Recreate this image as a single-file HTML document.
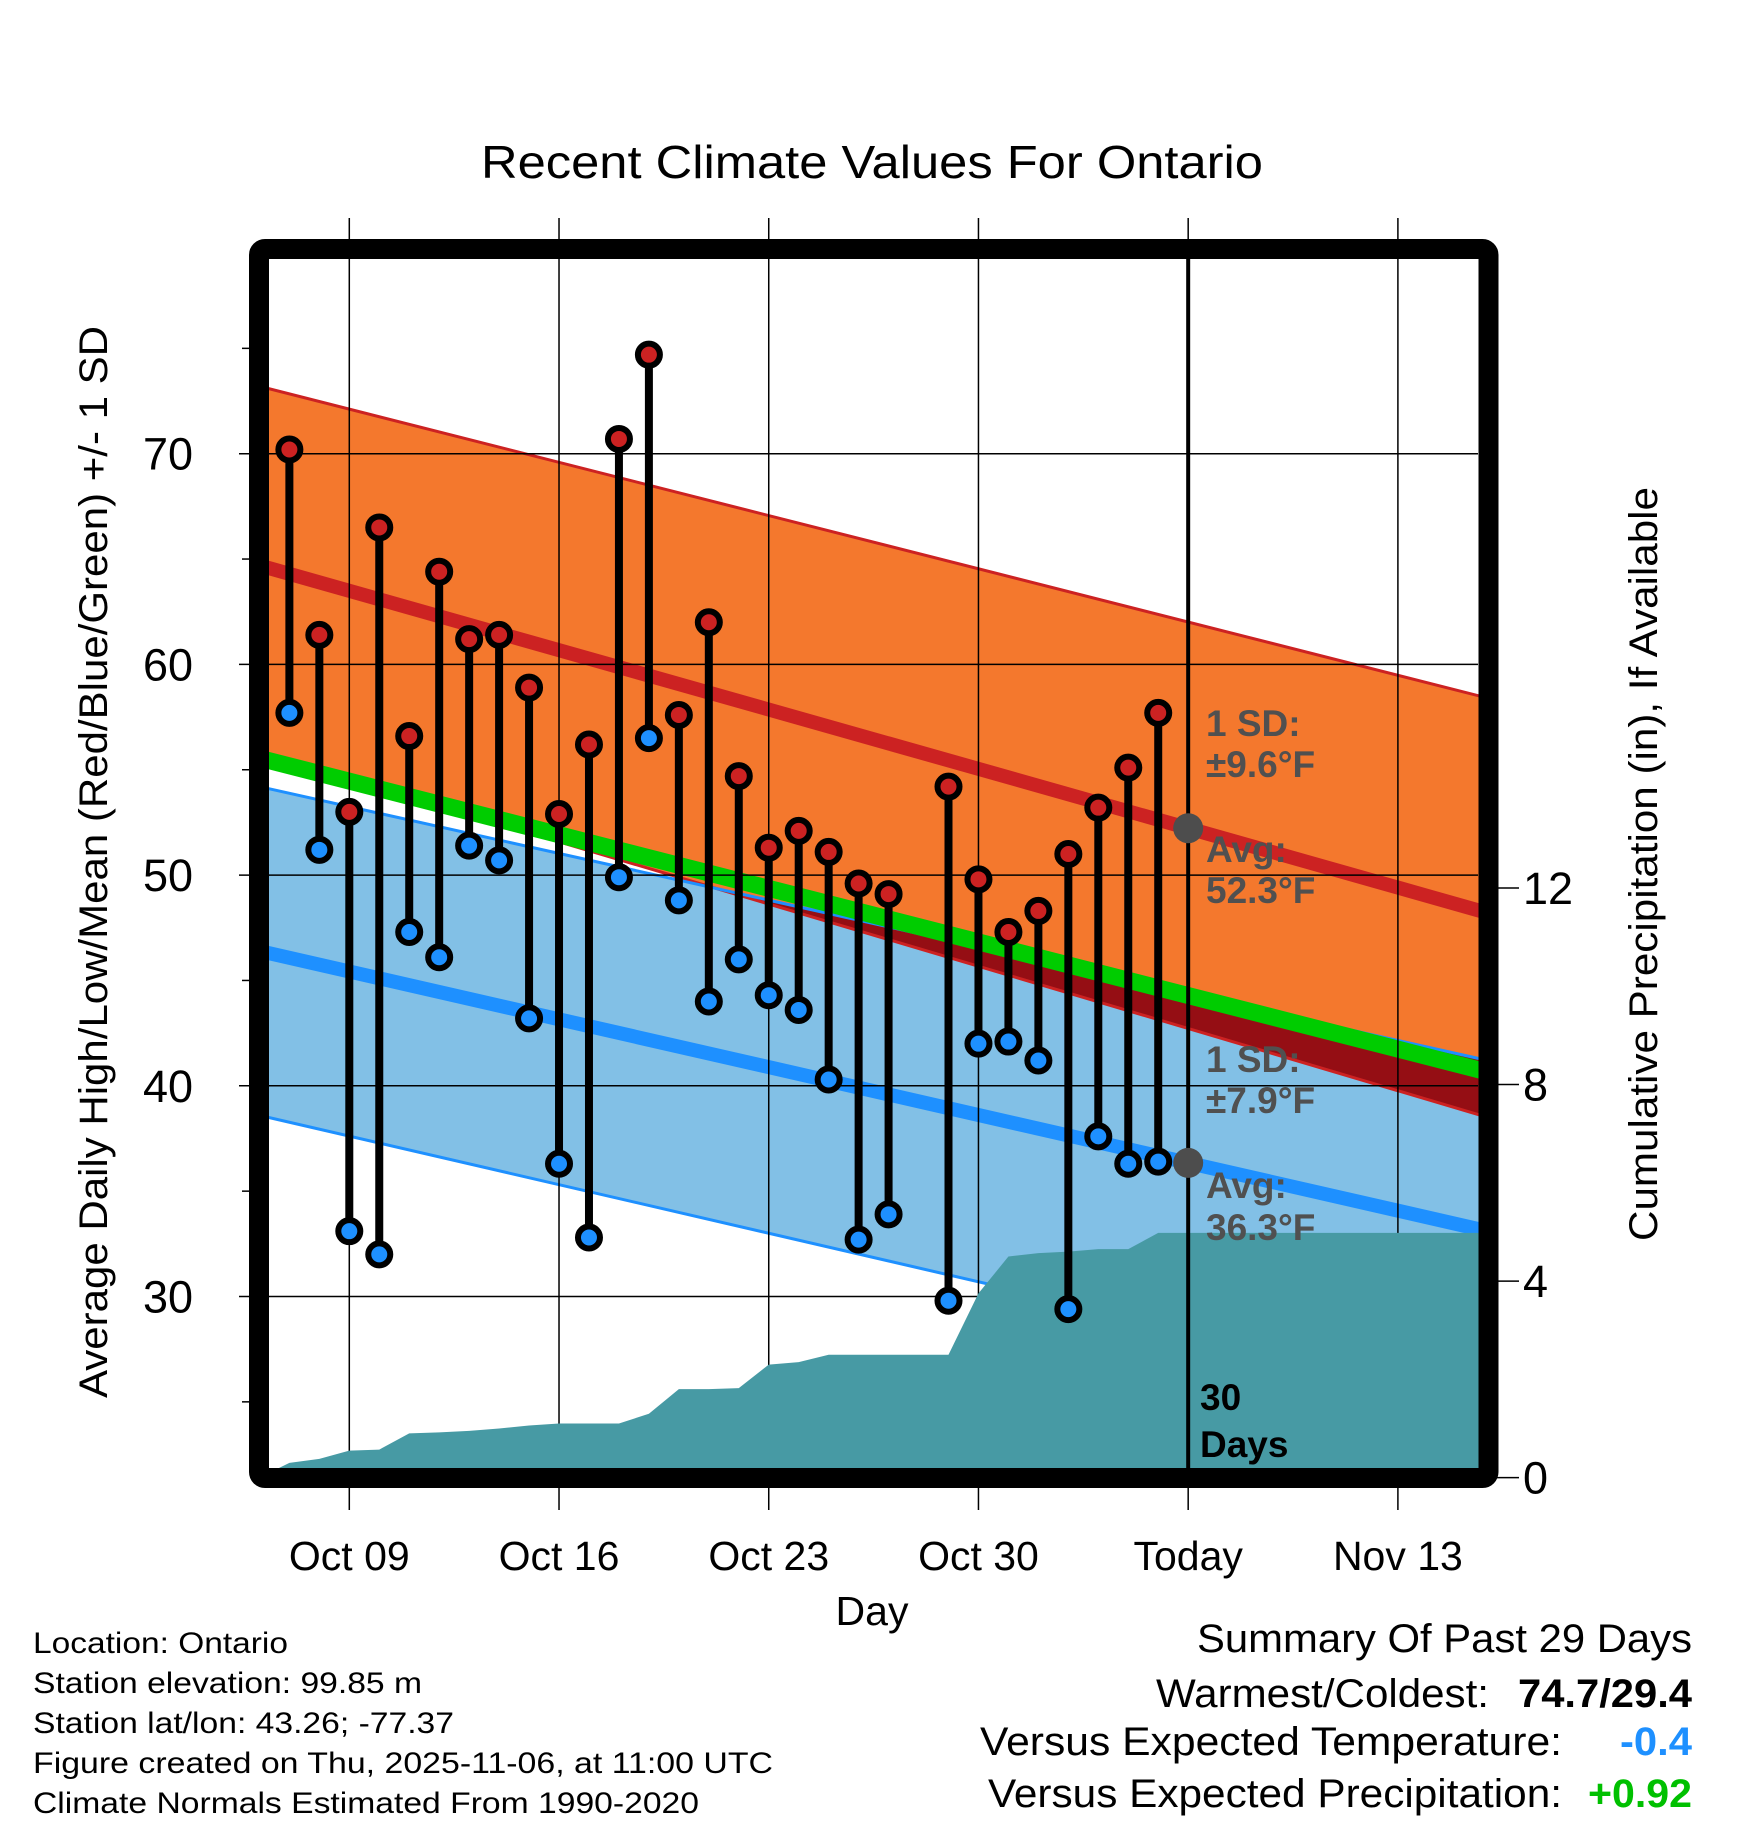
<!DOCTYPE html>
<html><head><meta charset="utf-8"><style>
html,body{margin:0;padding:0;background:#fff}
svg{display:block;font-family:"Liberation Sans",Arial,sans-serif}
</style></head><body>
<svg id="chart" width="1748" height="1828" viewBox="0 0 1748 1828" xmlns="http://www.w3.org/2000/svg">
<defs><clipPath id="plotclip"><rect x="268" y="258" width="1211" height="1211"/></clipPath></defs>
<g id="bands" clip-path="url(#plotclip)"></g>
<g id="grid"></g>
<g id="precip" clip-path="url(#plotclip)"></g>
<g id="marks"></g>
<rect x="259" y="249" width="1229.5" height="1229" fill="none" stroke="#000" stroke-width="20" rx="6"/>
<g id="labels"></g>
</svg>
<script>
// ---- data ----
const dayLabels = ["Oct 09","Oct 16","Oct 23","Oct 30","Today","Nov 13"];
const dayLabelOffsets = [0,7,14,21,28,35];
const obsDays = [-2,-1,0,1,2,3,4,5,6,7,8,9,10,11,12,13,14,15,16,17,18,20,21,22,23,24,25,26,27];
const highs = [70.2,61.4,53.0,66.5,56.6,64.4,61.2,61.4,58.9,52.9,56.2,70.7,74.7,57.6,62.0,54.7,51.3,52.1,51.1,49.6,49.1,54.2,49.8,47.3,48.3,51.0,53.2,55.1,57.7];
const lows  = [57.7,51.2,33.1,32.0,47.3,46.1,51.4,50.7,43.2,36.3,32.8,49.9,56.5,48.8,44.0,46.0,44.3,43.6,40.3,32.7,33.9,29.8,42.0,42.1,41.2,29.4,37.6,36.3,36.4];
const normDays = [-3,38];
const normHigh = [64.7,48.2];
const normHighUpper = [73.2,58.4];
const normHighLower = [55.8,38.5];
const normLow = [46.4,33.1];
const normLowUpper = [54.2,41.2];
const normLowLower = [38.6,25.1];
const normMean = [55.55,40.65];
const precipDays = [-3,-2,-1,0,1,2,3,4,5,6,7,8,9,10,11,12,13,14,15,16,17,18,19,20,21,22,23,24,25,26,27,28,38];
const precipCum = [0.0,0.3,0.38,0.55,0.57,0.9,0.92,0.95,1.0,1.06,1.1,1.1,1.1,1.3,1.8,1.8,1.82,2.3,2.35,2.5,2.5,2.5,2.5,2.5,3.75,4.5,4.57,4.6,4.65,4.65,4.98,4.98,4.98];
const tempTicks = [30,40,50,60,70];
const tempMinorTicks = [25,35,45,55,65,75];
const precipTicks = [0,4,8,12];

// ---- axes ----
const X = d => 349.3 + 29.96*d;
const Y = v => 453.7 + (70 - v)*21.07;
const YP = p => 1477.6 - p*49.13;
const NS = "http://www.w3.org/2000/svg";
function mk(tag, attrs, parent){const e=document.createElementNS(NS,tag);for(const k in attrs)e.setAttribute(k,attrs[k]);parent.appendChild(e);return e;}
const bands=document.getElementById('bands'), grid=document.getElementById('grid'), pg=document.getElementById('precip'), marks=document.getElementById('marks'), labels=document.getElementById('labels');
function bandPts(up,lo){return `${X(normDays[0])},${Y(up[0])} ${X(normDays[1])},${Y(up[1])} ${X(normDays[1])},${Y(lo[1])} ${X(normDays[0])},${Y(lo[0])}`;}
function line(vals,color,w,name){const l=mk('line',{x1:X(normDays[0]),y1:Y(vals[0]),x2:X(normDays[1]),y2:Y(vals[1]),stroke:color,'stroke-width':w},bands);

}

let e;
e=mk('polygon',{points:bandPts(normLowUpper,normLowLower),fill:'#82c0e6'},bands);


e=mk('polygon',{points:bandPts(normHighUpper,normHighLower),fill:'#f4782d'},bands);


const cp=mk('clipPath',{id:'ovl'},document.querySelector('defs'));
mk('polygon',{points:bandPts(normHighUpper,normHighLower)},cp);
e=mk('polygon',{points:bandPts(normLowUpper,normLowLower),fill:'#950e14','clip-path':'url(#ovl)'},bands);


line(normHighUpper,'#cc2222',3,'high-upper-sd-line');
line(normHighLower,'#cc2222',3,'high-lower-sd-line');
line(normLowUpper,'#1e90ff',3,'low-upper-sd-line');
line(normLowLower,'#1e90ff',3,'low-lower-sd-line');
line(normHigh,'#cc2222',14,'avg-high-line');
line(normLow,'#1e90ff',14,'avg-low-line');
line(normMean,'#00cc00',17,'avg-mean-line');

dayLabelOffsets.forEach((d,i)=>{
  const g=mk('line',{x1:X(d),y1:218,x2:X(d),y2:1510,stroke:'#000','stroke-width':1.5},grid);
  
  
  const t=mk('text',{x:X(d),y:1570,'font-size':41,'text-anchor':'middle'},labels);
  t.textContent=dayLabels[i];
  
  
});
tempTicks.forEach(v=>{
  const g=mk('line',{x1:239,y1:Y(v),x2:1478,y2:Y(v),stroke:'#000','stroke-width':1.5},grid);
  
  
  const t=mk('text',{x:193,y:Y(v)+16,'font-size':45,'text-anchor':'end'},labels);
  t.textContent=v;
  
  
});
tempMinorTicks.forEach(v=>{
  const g=mk('line',{x1:242,y1:Y(v),x2:252,y2:Y(v),stroke:'#000','stroke-width':1.5},grid);
  
  
});
precipTicks.forEach(p=>{
  const g=mk('line',{x1:1495,y1:YP(p),x2:1519,y2:YP(p),stroke:'#000','stroke-width':1.5},grid);
  
  
  const t=mk('text',{x:1523,y:YP(p)+16,'font-size':45},labels);
  t.textContent=p;
  
  
});

let pts=precipDays.map((d,i)=>`${X(d)},${YP(precipCum[i])}`).join(' ');
pts+=` ${X(precipDays[precipDays.length-1])},${YP(0)+5} ${X(precipDays[0])},${YP(0)+5}`;
e=mk('polygon',{points:pts,fill:'#479aa4'},pg);



e=mk('line',{x1:X(28),y1:255,x2:X(28),y2:1470,stroke:'#000','stroke-width':4},marks);


const tH=normHigh[0]+(normHigh[1]-normHigh[0])*(28-normDays[0])/(normDays[1]-normDays[0]);
const tL=normLow[0]+(normLow[1]-normLow[0])*(28-normDays[0])/(normDays[1]-normDays[0]);
e=mk('circle',{cx:X(28),cy:Y(tH),r:15,fill:'#4d4d4d'},marks);


e=mk('circle',{cx:X(28),cy:Y(tL),r:15,fill:'#4d4d4d'},marks);



obsDays.forEach((d,i)=>{
  const s=mk('line',{x1:X(d),y1:Y(highs[i]),x2:X(d),y2:Y(lows[i]),stroke:'#000','stroke-width':8},marks);
  
  
});
obsDays.forEach((d,i)=>{
  const h=mk('circle',{cx:X(d),cy:Y(highs[i]),r:11,fill:'#cc2222',stroke:'#000','stroke-width':6},marks);
  
  
  const l=mk('circle',{cx:X(d),cy:Y(lows[i]),r:11,fill:'#1e90ff',stroke:'#000','stroke-width':6},marks);
  
  
});
</script>
<script>
(function(){
const labels=document.getElementById('labels');
const items=[
 ['chart-title','Recent Climate Values For Ontario',872,178,46,'middle','normal','#000',782],
 ['x-axis-title','Day',872,1625,41,'middle','normal','#000',0],
 ['high-sd-label','1 SD:',1206,736,37,'start','bold','#505050',0],
 ['high-sd-value','±9.6°F',1206,777,37,'start','bold','#505050',0],
 ['avg-high-label','Avg:',1206,862,37,'start','bold','#505050',0],
 ['avg-high-value','52.3°F',1206,903,37,'start','bold','#505050',0],
 ['low-sd-label','1 SD:',1206,1072,37,'start','bold','#505050',0],
 ['low-sd-value','±7.9°F',1206,1113,37,'start','bold','#505050',0],
 ['avg-low-label','Avg:',1206,1198,37,'start','bold','#505050',0],
 ['avg-low-value','36.3°F',1206,1240,37,'start','bold','#505050',0],
 ['days-count','30',1200,1410,37,'start','bold','#000',0],
 ['days-label','Days',1200,1457,37,'start','bold','#000',0],
 ['location-info','Location: Ontario',33,1653,30,'start','normal','#000',255],
 ['elevation-info','Station elevation: 99.85 m',33,1693,30,'start','normal','#000',389],
 ['latlon-info','Station lat/lon: 43.26; -77.37',33,1733,30,'start','normal','#000',421],
 ['created-info','Figure created on Thu, 2025-11-06, at 11:00 UTC',33,1773,30,'start','normal','#000',740],
 ['normals-info','Climate Normals Estimated From 1990-2020',33,1813,30,'start','normal','#000',666],
 ['summary-title','Summary Of Past 29 Days',1692,1652,40,'end','normal','#000',495],
 ['warmest-coldest-label','Warmest/Coldest:',1489,1707,40,'end','normal','#000',333],
 ['warmest-coldest-value','74.7/29.4',1692,1707,40,'end','bold','#000',174],
 ['temp-anomaly-label','Versus Expected Temperature:',1562,1755,40,'end','normal','#000',582],
 ['temp-anomaly-value','-0.4',1692,1755,40,'end','bold','#1e90ff',72],
 ['precip-anomaly-label','Versus Expected Precipitation:',1562,1807,40,'end','normal','#000',574],
 ['precip-anomaly-value','+0.92',1692,1807,40,'end','bold','#00c000',104]
];
const NS="http://www.w3.org/2000/svg";
items.forEach(it=>{
 const t=document.createElementNS(NS,'text');
 t.setAttribute('x',it[2]);t.setAttribute('y',it[3]);t.setAttribute('font-size',it[4]);
 t.setAttribute('text-anchor',it[5]);t.setAttribute('font-weight',it[6]);t.setAttribute('fill',it[7]);
 if(it[8]){t.setAttribute('textLength',it[8]);t.setAttribute('lengthAdjust','spacingAndGlyphs');}
 t.textContent=it[1];
 
 
 labels.appendChild(t);
});
const a=document.createElementNS(NS,'text');
a.setAttribute('transform','translate(107,862) rotate(-90)');a.setAttribute('font-size',40);a.setAttribute('text-anchor','middle');
a.setAttribute('textLength',1072);a.setAttribute('lengthAdjust','spacingAndGlyphs');
a.textContent='Average Daily High/Low/Mean (Red/Blue/Green) +/- 1 SD';


labels.appendChild(a);
const b=document.createElementNS(NS,'text');
b.setAttribute('transform','translate(1657,864) rotate(-90)');b.setAttribute('font-size',40);b.setAttribute('text-anchor','middle');
b.setAttribute('textLength',754);b.setAttribute('lengthAdjust','spacingAndGlyphs');
b.textContent='Cumulative Precipitation (in), If Available';


labels.appendChild(b);
})();
</script>
</body></html>
